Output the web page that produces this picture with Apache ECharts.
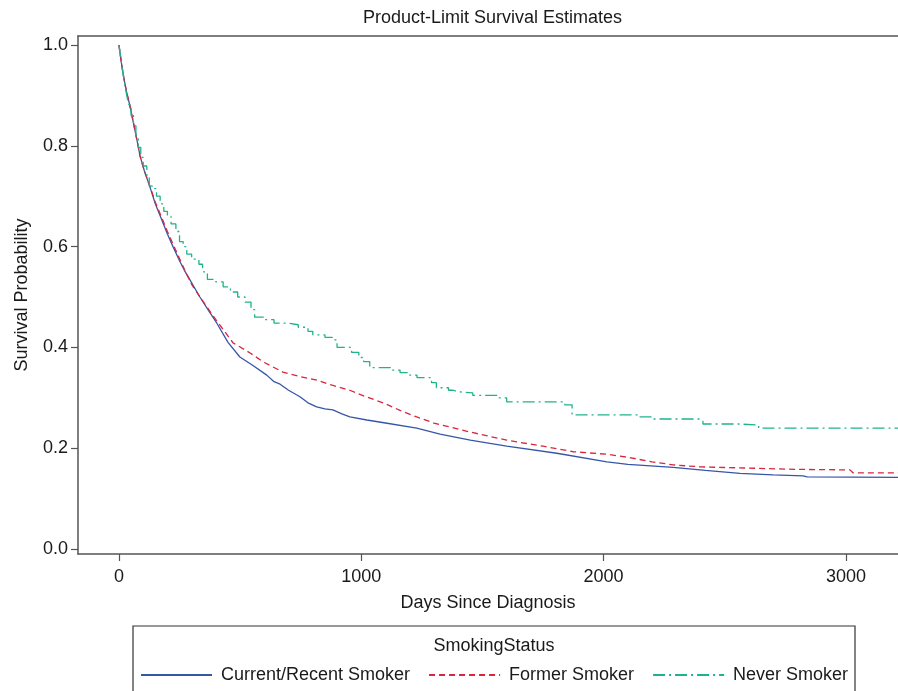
<!DOCTYPE html>
<html>
<head>
<meta charset="utf-8">
<script src="https://cdn.jsdelivr.net/npm/echarts@6/dist/echarts.min.js"></script>
<style>html,body{margin:0;padding:0;background:#fff;}#c{width:898px;height:691px;}</style>
</head>
<body>
<div id="c"></div>
<script>
// Data
const titleText = 'Product-Limit Survival Estimates';
const xTicks = [0, 1000, 2000, 3000];
const yTicks = [0, 0.2, 0.4, 0.6, 0.8, 1.0];
const seriesNames = ['Current/Recent Smoker', 'Former Smoker', 'Never Smoker'];

const currentDays = [0,10,20,30,45,60,75,87,105,128,150,177,200,223,250,270,293,334,370,404,450,499,550,610,640,665,700,747,780,816,850,883,920,953,1023,1100,1229,1325,1450,1600,1807,2014,2100,2287,2420,2563,2700,2823,2840,3215];
const currentSurv = [1.0,0.965,0.935,0.91,0.88,0.845,0.81,0.78,0.75,0.718,0.685,0.653,0.625,0.60,0.572,0.553,0.534,0.50,0.473,0.448,0.41,0.381,0.365,0.345,0.332,0.327,0.315,0.302,0.29,0.282,0.278,0.276,0.268,0.262,0.256,0.25,0.24,0.228,0.216,0.204,0.19,0.173,0.168,0.162,0.156,0.15,0.147,0.145,0.143,0.142];

const formerDays = [0,10,20,30,45,60,75,87,105,128,150,177,200,223,270,300,334,400,471,541,600,677,750,816,880,953,1020,1091,1160,1229,1300,1366,1450,1600,1750,1875,2014,2100,2200,2287,2400,2563,2800,3017,3030,3215];
const formerSurv = [1.0,0.965,0.935,0.91,0.88,0.845,0.81,0.78,0.75,0.72,0.688,0.657,0.63,0.605,0.555,0.525,0.50,0.455,0.409,0.389,0.37,0.351,0.342,0.335,0.325,0.315,0.302,0.29,0.275,0.262,0.25,0.242,0.232,0.216,0.204,0.193,0.188,0.182,0.173,0.167,0.163,0.161,0.158,0.157,0.151,0.151];

const neverDays = [0,8,16,24,32,40,50,60,70,80,90,100,115,125,145,155,170,185,200,215,235,250,265,280,300,330,345,365,400,430,460,490,520,545,560,600,640,700,740,780,800,850,880,900,960,990,1010,1035,1120,1160,1200,1230,1290,1310,1360,1380,1400,1460,1560,1600,1840,1870,2150,2200,2400,2410,2560,2640,3215];
const neverSurv = [1.0,0.972,0.946,0.922,0.90,0.882,0.86,0.84,0.818,0.797,0.777,0.76,0.74,0.72,0.715,0.70,0.685,0.67,0.66,0.645,0.63,0.61,0.60,0.585,0.575,0.565,0.55,0.535,0.53,0.52,0.51,0.50,0.49,0.475,0.46,0.455,0.448,0.445,0.44,0.432,0.425,0.42,0.415,0.40,0.39,0.38,0.372,0.36,0.355,0.35,0.345,0.34,0.33,0.32,0.315,0.312,0.31,0.305,0.30,0.292,0.286,0.266,0.262,0.258,0.255,0.248,0.246,0.24,0.24];

const zip = (a, b) => a.map((v, i) => [v, b[i]]);

const FONT = '"Liberation Sans", Arial, Helvetica, sans-serif';
const FS = 18;
const TXT = '#1a1a1a';
const AX = '#555';
const X_MIN = -169, X_MAX = 3215, Y_MIN = -0.0099, Y_MAX = 1.0179;

const chart = echarts.init(document.getElementById('c'), null, {renderer: 'canvas'});
chart.setOption({
  animation: false,
  backgroundColor: '#fff',
  textStyle: {fontFamily: FONT},
  title: {
    text: titleText, left: 363, top: 9, padding: 0,
    textStyle: {fontSize: FS, fontWeight: 'normal', color: TXT, fontFamily: FONT}
  },
  grid: {left: 78, right: 0, top: 36, bottom: 137, containLabel: false},
  xAxis: [{
    type: 'value', min: X_MIN, max: X_MAX, position: 'bottom',
    name: 'Days Since Diagnosis', nameLocation: 'middle', nameGap: 40,
    nameTextStyle: {fontSize: FS, color: TXT, fontFamily: FONT},
    axisLine: {show: true, onZero: false, lineStyle: {color: AX, width: 1.5}},
    axisTick: {show: true, length: 7, customValues: xTicks, lineStyle: {color: AX, width: 1.2}},
    axisLabel: {customValues: xTicks, margin: 14, fontSize: FS, color: TXT, fontFamily: FONT,
      formatter: v => String(v)},
    splitLine: {show: false}
  }, {
    type: 'value', min: X_MIN, max: X_MAX, position: 'top',
    axisLine: {show: true, onZero: false, lineStyle: {color: AX, width: 1.5}},
    axisTick: {show: false}, axisLabel: {show: false}, splitLine: {show: false}
  }],
  yAxis: {
    type: 'value', min: Y_MIN, max: Y_MAX,
    name: 'Survival Probability', nameLocation: 'middle', nameGap: 47,
    nameTextStyle: {fontSize: FS, color: TXT, fontFamily: FONT},
    axisLine: {show: true, onZero: false, lineStyle: {color: AX, width: 1.5}},
    axisTick: {show: true, length: 7, customValues: yTicks, lineStyle: {color: AX, width: 1.2}},
    axisLabel: {customValues: yTicks, margin: 10, fontSize: FS, color: TXT, fontFamily: FONT,
      formatter: v => v.toFixed(1)},
    splitLine: {show: false}
  },
  legend: {
    data: seriesNames, left: 140, top: 666, padding: 0, itemWidth: 71, itemHeight: 14, itemGap: 18,
    itemStyle: {opacity: 0},
    textStyle: {fontSize: FS, color: TXT, fontFamily: FONT, padding: [0, 0, 0, 4]}
  },
  graphic: [
    {type: 'rect', shape: {x: 133, y: 626, width: 722, height: 90}, style: {fill: 'none', stroke: '#333', lineWidth: 1.2}, silent: true},
    {type: 'text', x: 494, y: 646, style: {text: 'SmokingStatus', fill: TXT, font: FS + 'px ' + FONT, textAlign: 'center', textVerticalAlign: 'middle'}}
  ],
  series: [
    {name: seriesNames[0], type: 'line', data: zip(currentDays, currentSurv), symbol: 'none', showSymbol: false,
      lineStyle: {color: '#3656a8', width: 1.3}, itemStyle: {color: '#3656a8'}},
    {name: seriesNames[1], type: 'line', data: zip(formerDays, formerSurv), symbol: 'none', showSymbol: false,
      lineStyle: {color: '#d7263d', width: 1.3, type: [6, 4]}, itemStyle: {color: '#d7263d'}},
    {name: seriesNames[2], type: 'line', step: 'end', data: zip(neverDays, neverSurv), symbol: 'none', showSymbol: false,
      lineStyle: {color: '#20b28a', width: 1.3, type: [12, 4, 2, 4]}, itemStyle: {color: '#20b28a'}}
  ]
});
</script>
</body>
</html>
